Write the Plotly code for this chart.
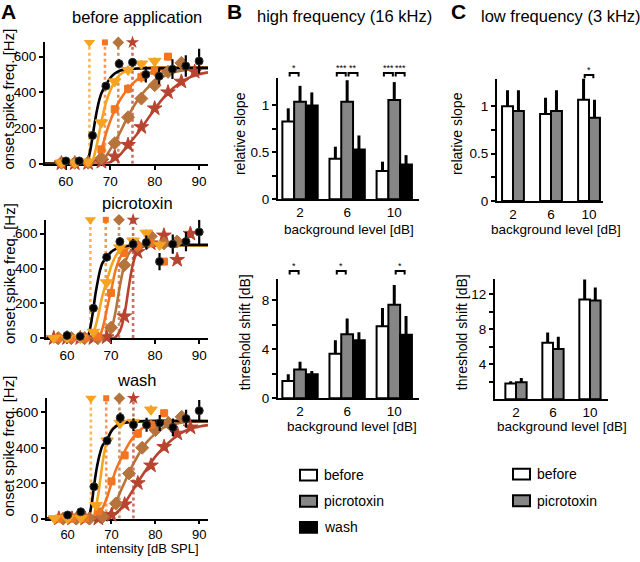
import plotly.graph_objects as go

FONT = "Liberation Sans, Arial, Helvetica, sans-serif"
W, H = 640, 562

# ======================= Panel A data =======================
INTENSITY_TICKS = [60, 70, 80, 90]
RATE_TICKS = [0, 200, 400, 600]
THRESHOLDS = [65.3, 68.8, 71.8, 75.0]   # dotted threshold lines (tri, sq, dia, star)

# --- before application: measured points ---
BEF_CIRC_X = [60, 63, 66, 69, 72, 75, 78, 81, 84, 87, 90]
BEF_CIRC_Y = [15, 15, 158, 435, 560, 568, 500, 490, 530, 548, 575]
BEF_CIRC_E = [5, 5, 10, 15, 25, 25, 45, 45, 55, 60, 70]
BEF_TRI_X = [59, 62, 65, 68, 71, 74, 77, 80]
BEF_TRI_Y = [5, 5, 10, 230, 460, 525, 560, 575]
BEF_TRI_E = [0, 0, 5, 15, 20, 25, 20, 20]
BEF_SQ_X = [59, 62, 65, 68, 71, 74, 77, 80, 83]
BEF_SQ_Y = [5, 5, 5, 80, 305, 420, 485, 520, 600]
BEF_SQ_E = [0, 0, 0, 10, 20, 25, 30, 30, 20]
BEF_DIA_X = [59, 62, 65, 68, 71, 74, 77, 80, 83, 86]
BEF_DIA_Y = [5, 5, 5, 30, 115, 260, 365, 440, 515, 565]
BEF_DIA_E = [0, 0, 0, 5, 10, 15, 20, 25, 30, 25]
BEF_STAR_X = [59, 62, 65, 68, 71, 74, 77, 80, 83, 86, 89]
BEF_STAR_Y = [2, 2, 3, 10, 40, 105, 205, 310, 400, 460, 515]
BEF_STAR_E = [0, 0, 0, 5, 5, 10, 15, 20, 20, 20, 20]
# --- before application: fitted curves ---
BEF_FIT_CIRC_X = [55.3, 64, 64.5, 65, 65.5, 66, 66.5, 67, 67.5, 68, 69, 70, 71, 72, 74, 78, 92]
BEF_FIT_CIRC_Y = [0, 0, 3, 25, 75, 150, 230, 300, 355, 395, 440, 480, 505, 520, 530, 535, 537]
BEF_FIT_TRI_X = [55.3, 65.5, 66, 66.5, 67, 67.5, 68, 69, 70, 71, 72, 74, 76, 80, 92]
BEF_FIT_TRI_Y = [0, 0, 15, 55, 110, 170, 235, 340, 410, 460, 495, 525, 535, 540, 540]
BEF_FIT_SQ_X = [55.3, 66.5, 67, 68, 69, 70, 71, 72, 74, 76, 78, 80, 84, 92]
BEF_FIT_SQ_Y = [0, 0, 20, 80, 165, 240, 300, 350, 420, 470, 500, 520, 535, 540]
BEF_FIT_DIA_X = [55.3, 67, 68, 69, 70, 71, 72, 74, 76, 78, 80, 82, 84, 88, 92]
BEF_FIT_DIA_Y = [0, 0, 10, 40, 80, 120, 165, 265, 350, 415, 460, 490, 510, 528, 535]
BEF_FIT_STAR_X = [55.3, 68.5, 70, 72, 74, 76, 78, 80, 82, 84, 86, 88, 90, 92]
BEF_FIT_STAR_Y = [0, 0, 8, 45, 105, 165, 235, 305, 370, 420, 458, 485, 502, 512]

# --- picrotoxin: measured points ---
PIC_CIRC_X = [60, 63, 66, 69, 72, 75, 78, 81, 84, 87, 90]
PIC_CIRC_Y = [15, 10, 172, 465, 555, 540, 550, 440, 540, 555, 610]
PIC_CIRC_E = [5, 5, 10, 15, 25, 30, 40, 50, 55, 55, 70]
PIC_TRI_X = [57, 60, 63, 66, 69, 72, 75, 78, 81]
PIC_TRI_Y = [0, 0, 0, 35, 320, 520, 560, 605, 535]
PIC_TRI_E = [0, 0, 0, 5, 20, 20, 20, 20, 25]
PIC_SQ_X = [58, 61, 64, 67, 70, 73, 76, 79, 82]
PIC_SQ_Y = [0, 0, 0, 8, 260, 490, 530, 545, 440]
PIC_SQ_E = [0, 0, 0, 5, 20, 20, 20, 20, 15]
PIC_DIA_X = [58, 61, 64, 67, 70, 73, 76, 79, 82, 85]
PIC_DIA_Y = [0, 0, 0, 0, 60, 420, 530, 585, 545, 555]
PIC_DIA_E = [0, 0, 0, 0, 10, 20, 20, 20, 20, 20]
PIC_STAR_X = [57, 60, 63, 66, 69, 73, 76, 79, 82, 85, 88]
PIC_STAR_Y = [0, 0, 0, 0, 5, 125, 495, 545, 590, 450, 600]
PIC_STAR_E = [0, 0, 0, 0, 0, 15, 20, 20, 25, 20, 25]
# --- picrotoxin: fitted curves ---
PIC_FIT_CIRC_X = [55.3, 64.5, 65, 65.5, 66, 66.5, 67, 67.5, 68, 69, 70, 71, 72, 75, 92]
PIC_FIT_CIRC_Y = [0, 0, 30, 90, 172, 260, 330, 390, 430, 465, 495, 512, 522, 532, 535]
PIC_FIT_TRI_X = [55.3, 65.8, 66, 66.5, 67, 67.5, 68, 68.5, 69, 70, 71, 72, 73, 75, 92]
PIC_FIT_TRI_Y = [0, 0, 30, 70, 120, 180, 240, 285, 325, 410, 470, 505, 520, 530, 532]
PIC_FIT_SQ_X = [55.3, 67, 67.5, 68, 68.5, 69, 69.5, 70, 71, 72, 73, 74, 76, 92]
PIC_FIT_SQ_Y = [0, 0, 15, 50, 100, 160, 220, 270, 390, 460, 500, 520, 532, 535]
PIC_FIT_DIA_X = [55.3, 69, 70, 71, 72, 73, 74, 75, 76, 78, 92]
PIC_FIT_DIA_Y = [0, 0, 45, 150, 300, 420, 485, 515, 527, 533, 535]
PIC_FIT_STAR_X = [55.3, 70.5, 71, 72, 73, 74, 75, 76, 77, 78, 80, 92]
PIC_FIT_STAR_Y = [0, 0, 5, 40, 130, 290, 430, 500, 522, 530, 534, 535]

# --- wash: measured points ---
WASH_CIRC_X = [60, 63, 66, 69, 72, 75, 78, 81, 84, 87, 90]
WASH_CIRC_Y = [20, 38, 180, 440, 570, 530, 530, 540, 515, 565, 610]
WASH_CIRC_E = [5, 5, 10, 15, 30, 35, 40, 45, 50, 50, 60]
WASH_TRI_X = [57, 60, 63, 66.5, 69, 72, 75, 79]
WASH_TRI_Y = [0, 0, 3, 75, 440, 540, 545, 615]
WASH_TRI_E = [0, 0, 0, 5, 20, 20, 20, 25]
WASH_SQ_X = [58, 61, 64, 67, 70, 73, 76, 79, 82]
WASH_SQ_Y = [0, 0, 0, 40, 210, 357, 480, 530, 595]
WASH_SQ_E = [0, 0, 0, 5, 15, 20, 25, 25, 20]
WASH_DIA_X = [59, 62, 65, 68, 71, 74, 77, 80, 83, 86]
WASH_DIA_Y = [0, 0, 0, 10, 85, 255, 400, 500, 540, 575]
WASH_DIA_E = [0, 0, 0, 5, 10, 15, 20, 20, 20, 20]
WASH_STAR_X = [58, 61, 64, 67, 70, 73, 76, 79, 82, 85, 88]
WASH_STAR_Y = [0, 0, 0, 0, 20, 80, 200, 300, 405, 480, 515]
WASH_STAR_E = [0, 0, 0, 0, 5, 10, 15, 20, 20, 20, 20]
# --- wash: fitted curves ---
WASH_FIT_CIRC_X = [55.3, 64.5, 65, 65.5, 66, 66.5, 67, 67.5, 68, 69, 70, 71, 72, 75, 92]
WASH_FIT_CIRC_Y = [0, 0, 25, 85, 180, 265, 330, 380, 415, 445, 495, 520, 535, 548, 550]
WASH_FIT_TRI_X = [55.3, 65.8, 66, 66.5, 67, 67.5, 68, 68.5, 69, 70, 71, 73, 76, 92]
WASH_FIT_TRI_Y = [0, 0, 15, 70, 140, 230, 320, 390, 440, 500, 525, 545, 550, 552]
WASH_FIT_SQ_X = [55.3, 66.5, 67, 68, 69, 70, 71, 72, 73, 74, 75, 76, 78, 80, 84, 92]
WASH_FIT_SQ_Y = [0, 0, 15, 60, 120, 200, 275, 330, 380, 425, 460, 490, 525, 542, 550, 552]
WASH_FIT_DIA_X = [55.3, 68, 69, 70, 71, 72, 73, 74, 75, 76, 77, 78, 80, 82, 85, 88, 92]
WASH_FIT_DIA_Y = [0, 0, 15, 45, 90, 150, 205, 260, 310, 355, 395, 430, 480, 515, 538, 547, 550]
WASH_FIT_STAR_X = [55.3, 69, 70, 71, 72, 73, 74, 76, 78, 80, 82, 84, 86, 88, 90, 92]
WASH_FIT_STAR_Y = [0, 0, 12, 30, 55, 85, 125, 205, 280, 350, 405, 450, 485, 508, 520, 528]

# ======================= Panels B / C data =======================
BG_LEVELS = [2, 6, 10]
B_SLOPE_BEFORE = [0.83, 0.43, 0.30]
B_SLOPE_BEFORE_E = [0.14, 0.13, 0.10]
B_SLOPE_PICRO = [1.04, 1.04, 1.06]
B_SLOPE_PICRO_E = [0.17, 0.23, 0.19]
B_SLOPE_WASH = [1.00, 0.53, 0.37]
B_SLOPE_WASH_E = [0.14, 0.15, 0.10]

B_THR_BEFORE = [1.42, 3.65, 5.90]
B_THR_BEFORE_E = [0.54, 1.10, 1.48]
B_THR_PICRO = [2.36, 5.23, 7.65]
B_THR_PICRO_E = [0.62, 1.29, 1.61]
B_THR_WASH = [1.96, 4.75, 5.20]
B_THR_WASH_E = [0.27, 0.65, 1.54]

C_SLOPE_BEFORE = [1.00, 0.92, 1.07]
C_SLOPE_BEFORE_E = [0.17, 0.17, 0.23]
C_SLOPE_PICRO = [0.95, 0.95, 0.88]
C_SLOPE_PICRO_E = [0.22, 0.22, 0.19]

C_THR_BEFORE = [1.80, 6.47, 11.39]
C_THR_BEFORE_E = [0.27, 1.16, 2.31]
C_THR_PICRO = [1.95, 5.75, 11.28]
C_THR_PICRO_E = [0.49, 1.39, 1.50]

# significance: (group, bar i, bar j, label)
SIG_B_SLOPE = [(2, 0, 1, "*"), (6, 0, 1, "***"), (6, 1, 2, "**"), (10, 0, 1, "***"), (10, 1, 2, "***")]
SIG_B_THR = [(2, 0, 1, "*"), (6, 0, 1, "*"), (10, 1, 2, "*")]
SIG_C_SLOPE = [(10, 0, 1, "*")]

CONDITIONS = ["before", "picrotoxin", "wash"]

# ======================= styles =======================
COL_CIRC = "#000000"
COL_TRI = "#F6A322"
COL_SQ = "#F37421"
COL_DIA = "#B7733C"
COL_STAR = "#B8432F"
BAR_FILL = ["#FFFFFF", "#868686", "#000000"]

STYLE = {
    "circ": dict(symbol="circle", color=COL_CIRC, size=8),
    "tri": dict(symbol="triangle-down", color=COL_TRI, size=11),
    "sq": dict(symbol="square", color=COL_SQ, size=7),
    "dia": dict(symbol="diamond", color=COL_DIA, size=10),
    "star": dict(symbol="star", color=COL_STAR, size=11),
}

fig = go.Figure()

# ---------------- Panel A ----------------
A_PANELS = [
    ("", "y", {
        "circ": (BEF_CIRC_X, BEF_CIRC_Y, BEF_CIRC_E, BEF_FIT_CIRC_X, BEF_FIT_CIRC_Y),
        "tri": (BEF_TRI_X, BEF_TRI_Y, BEF_TRI_E, BEF_FIT_TRI_X, BEF_FIT_TRI_Y),
        "sq": (BEF_SQ_X, BEF_SQ_Y, BEF_SQ_E, BEF_FIT_SQ_X, BEF_FIT_SQ_Y),
        "dia": (BEF_DIA_X, BEF_DIA_Y, BEF_DIA_E, BEF_FIT_DIA_X, BEF_FIT_DIA_Y),
        "star": (BEF_STAR_X, BEF_STAR_Y, BEF_STAR_E, BEF_FIT_STAR_X, BEF_FIT_STAR_Y),
    }),
    ("2", "y2", {
        "circ": (PIC_CIRC_X, PIC_CIRC_Y, PIC_CIRC_E, PIC_FIT_CIRC_X, PIC_FIT_CIRC_Y),
        "tri": (PIC_TRI_X, PIC_TRI_Y, PIC_TRI_E, PIC_FIT_TRI_X, PIC_FIT_TRI_Y),
        "sq": (PIC_SQ_X, PIC_SQ_Y, PIC_SQ_E, PIC_FIT_SQ_X, PIC_FIT_SQ_Y),
        "dia": (PIC_DIA_X, PIC_DIA_Y, PIC_DIA_E, PIC_FIT_DIA_X, PIC_FIT_DIA_Y),
        "star": (PIC_STAR_X, PIC_STAR_Y, PIC_STAR_E, PIC_FIT_STAR_X, PIC_FIT_STAR_Y),
    }),
    ("3", "y3", {
        "circ": (WASH_CIRC_X, WASH_CIRC_Y, WASH_CIRC_E, WASH_FIT_CIRC_X, WASH_FIT_CIRC_Y),
        "tri": (WASH_TRI_X, WASH_TRI_Y, WASH_TRI_E, WASH_FIT_TRI_X, WASH_FIT_TRI_Y),
        "sq": (WASH_SQ_X, WASH_SQ_Y, WASH_SQ_E, WASH_FIT_SQ_X, WASH_FIT_SQ_Y),
        "dia": (WASH_DIA_X, WASH_DIA_Y, WASH_DIA_E, WASH_FIT_DIA_X, WASH_FIT_DIA_Y),
        "star": (WASH_STAR_X, WASH_STAR_Y, WASH_STAR_E, WASH_FIT_STAR_X, WASH_FIT_STAR_Y),
    }),
]
A_YMAX = 680
THR_KEYS = ["tri", "sq", "dia", "star"]
DRAW_ORDER = ["star", "dia", "sq", "tri", "circ"]

for suf, yref, series in A_PANELS:
    xa, ya = "x" + suf, yref
    # dotted threshold lines with marker on top
    for key, t in zip(THR_KEYS, THRESHOLDS):
        st = STYLE[key]
        fig.add_trace(go.Scatter(x=[t, t], y=[0, A_YMAX], mode="lines", xaxis=xa, yaxis=ya,
                                 line=dict(color=st["color"], width=2.6, dash="dot"), opacity=0.75,
                                 cliponaxis=False, hoverinfo="skip"))
        fig.add_trace(go.Scatter(x=[t], y=[A_YMAX], mode="markers", xaxis=xa, yaxis=ya,
                                 marker=dict(symbol=st["symbol"], color=st["color"], size=st["size"] - 1,
                                             line=dict(width=0)),
                                 cliponaxis=False, hoverinfo="skip"))
    # fitted curves
    for key in DRAW_ORDER:
        st = STYLE[key]
        fx, fy = series[key][3], series[key][4]
        fig.add_trace(go.Scatter(x=fx, y=fy, mode="lines", xaxis=xa, yaxis=ya,
                                 line=dict(color=st["color"], width=2.6, shape="spline", smoothing=0.9),
                                 cliponaxis=False, hoverinfo="skip"))
    # measured points
    for key in DRAW_ORDER:
        st = STYLE[key]
        px_, py_, pe = series[key][0], series[key][1], series[key][2]
        fig.add_trace(go.Scatter(x=px_, y=py_, mode="markers", xaxis=xa, yaxis=ya,
                                 marker=dict(symbol=st["symbol"], color=st["color"], size=st["size"],
                                             line=dict(width=1, color="#333333" if key == "circ" else st["color"])),
                                 error_y=dict(type="data", array=pe, thickness=2.2, width=0, color=st["color"]),
                                 cliponaxis=False, hoverinfo="skip"))

# ---------------- Panels B / C (bars) ----------------
B_W = 1.0
C_W = 1.15


def add_bars(xa, ya, values, errors, width):
    n = len(values)
    for i, (v, e) in enumerate(zip(values, errors)):
        off = (-n / 2 + i) * width
        fig.add_trace(go.Bar(x=BG_LEVELS, y=v, width=width, offset=off, xaxis=xa, yaxis=ya,
                             name=CONDITIONS[i],
                             marker=dict(color=BAR_FILL[i], line=dict(color="black", width=2)),
                             error_y=dict(type="data", array=e, arrayminus=[0] * len(e), symmetric=False,
                                          thickness=3, width=0, color="black"),
                             hoverinfo="skip"))


add_bars("x4", "y4", [B_SLOPE_BEFORE, B_SLOPE_PICRO, B_SLOPE_WASH],
         [B_SLOPE_BEFORE_E, B_SLOPE_PICRO_E, B_SLOPE_WASH_E], B_W)
add_bars("x5", "y5", [B_THR_BEFORE, B_THR_PICRO, B_THR_WASH],
         [B_THR_BEFORE_E, B_THR_PICRO_E, B_THR_WASH_E], B_W)
add_bars("x6", "y6", [C_SLOPE_BEFORE, C_SLOPE_PICRO], [C_SLOPE_BEFORE_E, C_SLOPE_PICRO_E], C_W)
add_bars("x7", "y7", [C_THR_BEFORE, C_THR_PICRO], [C_THR_BEFORE_E, C_THR_PICRO_E], C_W)

shapes = []
annotations = []


def add_sig(xref, sigs, nbars, width, y_line_px, y_star_px, inset):
    for g, i, j, lab in sigs:
        ci = g + (-nbars / 2 + i + 0.5) * width
        cj = g + (-nbars / 2 + j + 0.5) * width
        x0, x1 = ci + inset, cj - inset
        yl = 1 - y_line_px / H
        yt = 1 - (y_line_px + 3.5) / H
        shapes.append(dict(type="path", xref=xref, yref="paper",
                           path=f"M {x0},{yt} L {x0},{yl} L {x1},{yl} L {x1},{yt}",
                           line=dict(color="black", width=2)))
        annotations.append(dict(x=(x0 + x1) / 2, y=1 - y_star_px / H, xref=xref, yref="paper",
                                text=lab, showarrow=False, xanchor="center", yanchor="middle",
                                borderpad=0,
                                font=dict(family=FONT, size=9, color="black")))


add_sig("x4", SIG_B_SLOPE, 3, B_W, 74, 69, 0.12)
add_sig("x5", SIG_B_THR, 3, B_W, 275, 270, 0.12)
add_sig("x6", SIG_C_SLOPE, 2, C_W, 76, 71, 0.12)


def legend_block(x0_px, y_centers, labels, fills):
    for yc, lab, fc in zip(y_centers, labels, fills):
        shapes.append(dict(type="rect", xref="paper", yref="paper",
                           x0=x0_px / W, x1=(x0_px + 17) / W,
                           y0=1 - (yc + 5.5) / H, y1=1 - (yc - 5.5) / H,
                           fillcolor=fc, line=dict(color="black", width=2)))
        annotations.append(dict(x=(x0_px + 22) / W, y=1 - yc / H, xref="paper", yref="paper",
                                text=lab, showarrow=False, xanchor="left", yanchor="middle",
                                font=dict(family=FONT, size=14, color="black")))


legend_block(300, [482, 508.5, 535], CONDITIONS, BAR_FILL)
legend_block(513, [481, 508], CONDITIONS[:2], BAR_FILL[:2])


def txt(xp, yp, s, size=14, bold=False, angle=0, xanchor="center"):
    annotations.append(dict(x=xp / W, y=1 - yp / H, xref="paper", yref="paper",
                            text=f"<b>{s}</b>" if bold else s, showarrow=False,
                            xanchor=xanchor, yanchor="middle", textangle=angle, borderpad=0,
                            font=dict(family=FONT, size=size, color="black")))


# panel letters and titles
txt(0, 12, "A", size=21, bold=True, xanchor="left")
txt(137, 17, "before application", size=16.5)
txt(137, 206, "picrotoxin", size=16.5)
txt(137, 385, "wash", size=16.5)
txt(226, 12, "B", size=21, bold=True, xanchor="left")
txt(256, 16, "high frequency (16 kHz)", size=16.5, xanchor="left")
txt(450, 12, "C", size=21, bold=True, xanchor="left")
txt(480, 16, "low frequency (3 kHz)", size=16.5, xanchor="left")

# axis titles
for yc in [101, 278, 453]:
    txt(9, yc, "onset spike freq. [Hz]", size=15, angle=-90)
txt(147, 556, "intensity [dB SPL]", size=13)
txt(240, 136, "relative slope", size=14, angle=-90)
txt(245, 337, "threshold shift [dB]", size=14, angle=-90)
txt(457, 136, "relative slope", size=14, angle=-90)
txt(462, 337, "threshold shift [dB]", size=14, angle=-90)
txt(349, 233, "background level [dB]", size=13.5)
txt(352, 433, "background level [dB]", size=13.5)
txt(556, 233, "background level [dB]", size=13.5)
txt(562, 433, "background level [dB]", size=13.5)


def ax(domain_px, rng, **kw):
    base = dict(domain=[domain_px[0] / W, domain_px[1] / W], range=rng, showline=True, linecolor="black",
                linewidth=2, ticks="outside", ticklen=4, tickwidth=2, tickcolor="black",
                showgrid=False, zeroline=False, fixedrange=True,
                tickfont=dict(family=FONT, size=13.5, color="black"))
    base.update(kw)
    return base


def ay(domain_px, rng, **kw):
    base = dict(domain=[1 - domain_px[1] / H, 1 - domain_px[0] / H], range=rng, showline=True,
                linecolor="black", linewidth=2, ticks="outside", ticklen=4, tickwidth=2,
                tickcolor="black", showgrid=False, zeroline=False, fixedrange=True,
                tickfont=dict(family=FONT, size=13.5, color="black"))
    base.update(kw)
    return base


A_XR = [55.3, 92.0]
layout_axes = dict(
    xaxis=ax((45, 208), A_XR, anchor="y", tickvals=INTENSITY_TICKS, layer="below traces"),
    yaxis=ay((43, 166), [0, A_YMAX], anchor="x", tickvals=RATE_TICKS, layer="below traces"),
    xaxis2=ax((46.3, 208), A_XR, anchor="y2", tickvals=INTENSITY_TICKS, layer="below traces"),
    yaxis2=ay((223, 343), [0, A_YMAX], anchor="x2", tickvals=RATE_TICKS, layer="below traces"),
    xaxis3=ax((47, 208), A_XR, anchor="y3", tickvals=INTENSITY_TICKS, layer="below traces",
              ticklen=3, tickfont=dict(family=FONT, size=13, color="black")),
    yaxis3=ay((404, 526), [0, A_YMAX], anchor="x3", tickvals=RATE_TICKS, layer="below traces"),
    xaxis4=ax((278, 419), [0.13, 12.1], anchor="y4", tickvals=BG_LEVELS, ticks=""),
    yaxis4=ay((79, 202), [0, 1.295], anchor="x4", tickvals=[0, 0.25, 0.5, 0.75, 1],
              ticktext=["0", "", "0.5", "", "1"]),
    xaxis5=ax((278, 419), [0.13, 12.1], anchor="y5", tickvals=BG_LEVELS, ticks=""),
    yaxis5=ay((283, 404), [0, 9.76], anchor="x5", tickvals=[0, 2, 4, 6, 8],
              ticktext=["0", "", "4", "", "8"]),
    xaxis6=ax((497, 603), [0.32, 11.47], anchor="y6", tickvals=BG_LEVELS, ticks=""),
    yaxis6=ay((80, 204), [0, 1.29], anchor="x6", tickvals=[0, 0.25, 0.5, 0.75, 1],
              ticktext=["0", "", "0.5", "", "1"]),
    xaxis7=ax((495, 608), [-0.27, 11.95], anchor="y7", tickvals=BG_LEVELS, ticks=""),
    yaxis7=ay((283, 405), [0, 13.75], anchor="x7", tickvals=[2, 4, 6, 8, 10, 12],
              ticktext=["", "4", "", "8", "", "12"]),
)

fig.update_layout(
    width=W, height=H, margin=dict(l=0, r=0, t=0, b=0),
    paper_bgcolor="white", plot_bgcolor="white", showlegend=False,
    barmode="overlay", shapes=shapes, annotations=annotations,
    font=dict(family=FONT, color="black"),
    **layout_axes,
)

POST = (
    "document.body.style.margin='0';document.body.style.overflow='hidden';"
    "var gd=document.getElementById('{plot_id}');"
    "var w=window.innerWidth, h=window.innerHeight;"
    "if(w>300 && h>300 && (w!=" + str(W) + " || h!=" + str(H) + ")){"
    "return Plotly.relayout(gd,{width:w,height:h});}"
)

fig.write_html("out.html", config={"displayModeBar": False, "staticPlot": True}, post_script=POST)
